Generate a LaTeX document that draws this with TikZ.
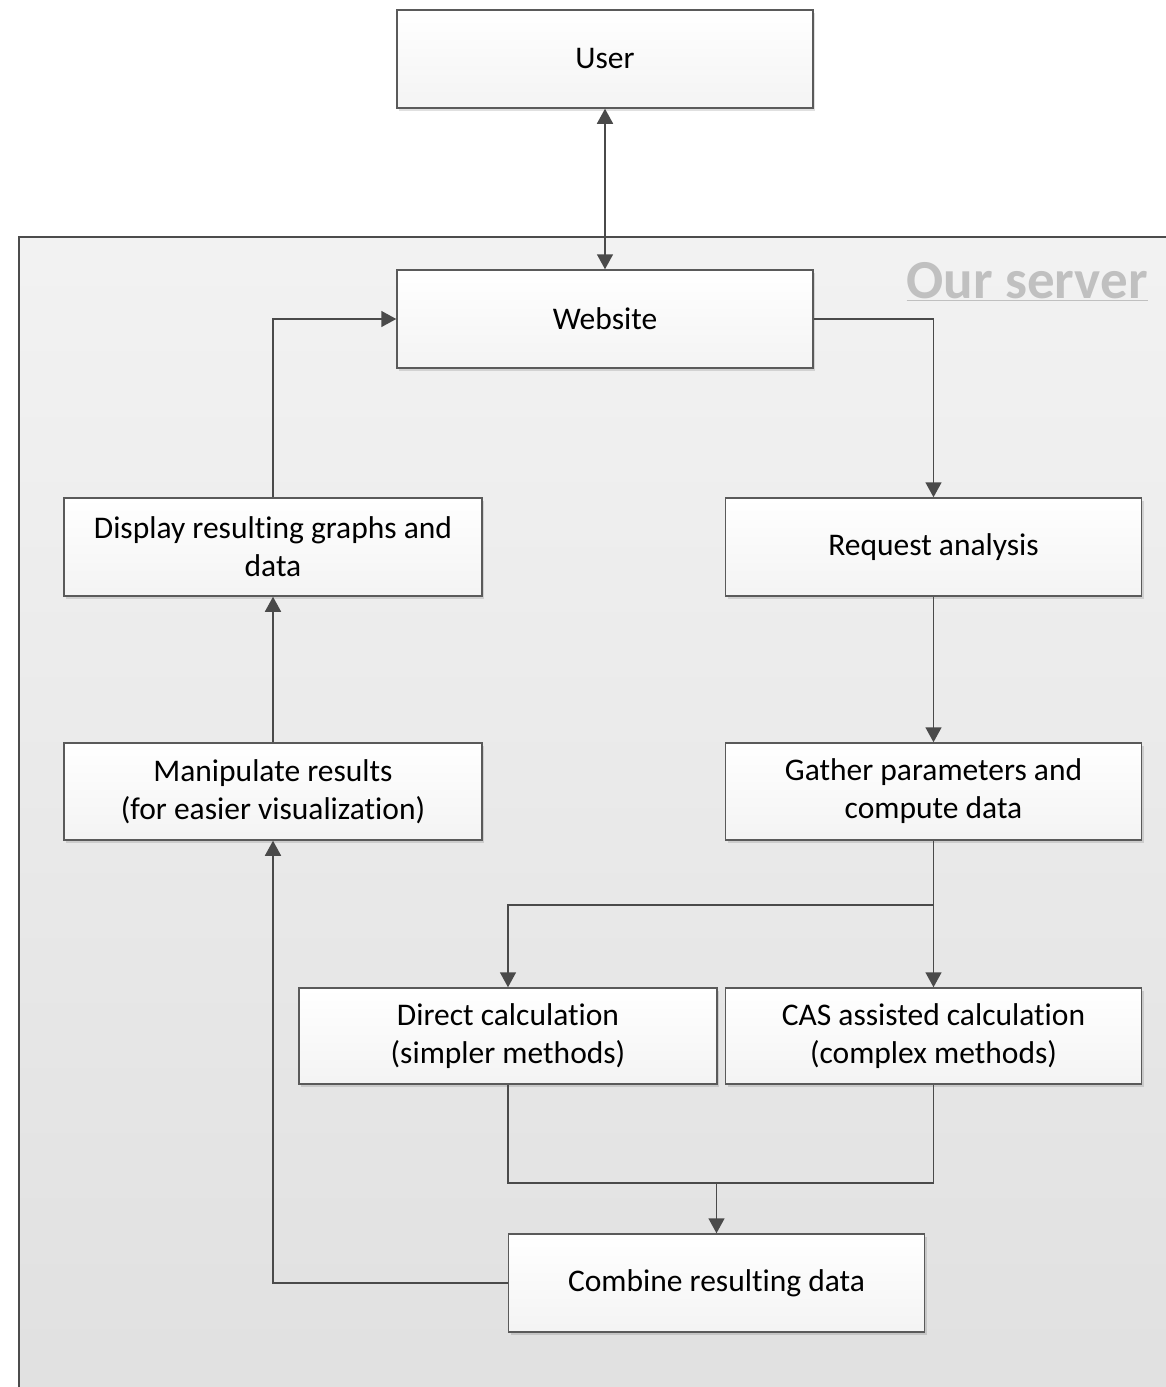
\documentclass[tikz,border=0pt]{standalone}
\usepackage{fontspec}
\setmainfont{Carlito}[Ligatures=NoCommon]
\usetikzlibrary{arrows.meta,shadows}
\definecolor{boxline}{HTML}{5A5A5A}
\definecolor{conline}{HTML}{4A4A4A}
\definecolor{servertxt}{HTML}{C0C0C0}
\tikzset{
  procbox/.style={draw=boxline, line width=1.5pt, rectangle, inner sep=0pt,
    top color=white, bottom color=gray!9, align=center,
    minimum width=416pt, minimum height=97pt,
    font=\fontsize{31.5}{38}\selectfont,
    drop shadow={shadow xshift=2pt, shadow yshift=-3pt, fill=black, opacity=0.12}},
  conn/.style={draw=conline, line width=1.6pt},
  arr/.style={conn, -{Triangle[width=16pt,length=15pt]}},
  darr/.style={conn, {Triangle[width=16pt,length=15pt]}-{Triangle[width=16pt,length=15pt]}}
}
\begin{document}
\begin{tikzpicture}[x=1pt,y=-1pt]
\useasboundingbox (0,0) rectangle (1166,1387);
\begin{scope}
\clip (0,0) rectangle (1166,1387);
\shade[top color=gray!10, bottom color=gray!24] (19,237) rectangle (1180,1400);
\draw[draw=black!70, line width=1.5pt] (19,1400) -- (19,237) -- (1180,237);
\end{scope}
\node[anchor=base east, text=servertxt, font=\fontsize{55}{62}\selectfont\bfseries, inner sep=0pt] (srv) at (1148,298) {\underline{Our server}};

\node[procbox, minimum height=98pt] (user) at (605,59) {User};
\node[procbox, minimum height=98pt] (website) at (605,319) {Website};
\node[procbox, minimum width=418pt, minimum height=98pt] (display) at (273,547) {Display resulting graphs and\\data};
\node[procbox, minimum height=98pt] (request) at (933.5,547) {Request analysis};
\node[procbox, minimum width=418pt] (manip) at (273,791.5) {Manipulate results\\(for easier visualization)};
\node[procbox] (gather) at (933.5,791.5) {Gather parameters and\\compute data};
\node[procbox, minimum width=418pt, minimum height=96pt] (direct) at (508,1036) {Direct calculation\\(simpler methods)};
\node[procbox, minimum height=96pt] (cas) at (933.5,1036) {CAS assisted calculation\\(complex methods)};
\node[procbox, minimum height=98pt] (combine) at (716.5,1283) {Combine resulting data};

\coordinate (split) at (933.5,905);
\coordinate (join) at (716.5,1183);

\draw[darr] (user) -- (website);
\draw[arr] (website.east) -| (request.north);
\draw[arr] (request) -- (gather);
\draw[arr] (gather) -- (cas);
\draw[arr] (split) -| (direct.north);
\draw[conn] (direct.south) |- (join) -| (cas.south);
\draw[arr] (join) -- (combine.north);
\draw[arr] (combine.west) -| (manip.south);
\draw[arr] (manip) -- (display);
\draw[arr] (display.north) |- (website.west);
\end{tikzpicture}
\end{document}
